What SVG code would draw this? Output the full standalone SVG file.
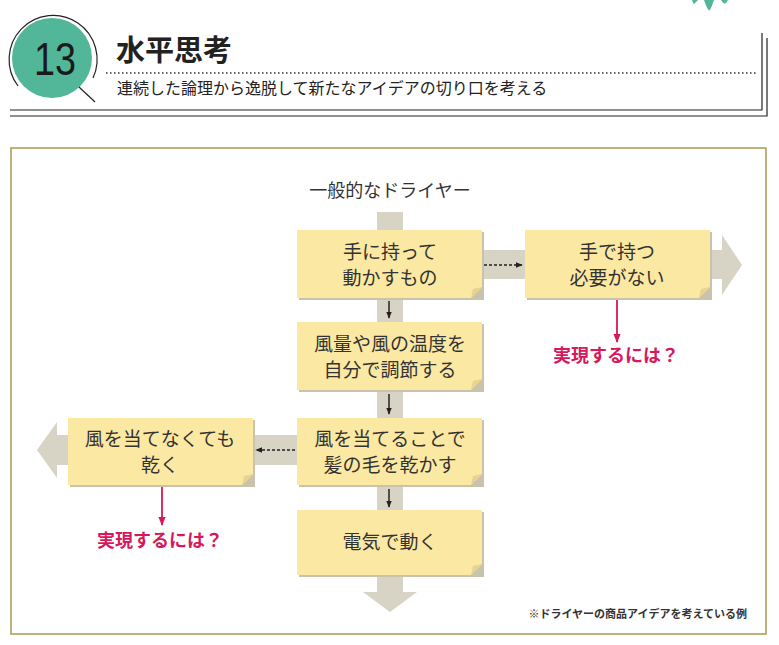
<svg xmlns="http://www.w3.org/2000/svg" width="779" height="645" viewBox="0 0 779 645">
<defs>
<style>
.jp{font-family:"Noto Sans CJK JP","Noto Sans",sans-serif;}
.note{fill:#FBE9A3;}
.shadow{fill:#C9C3AE;}
.fold{fill:#E6D38E;}
.nt{font-family:"Noto Sans CJK JP",sans-serif;font-size:19px;fill:#333;text-anchor:middle;}
.band{fill:#D7D3C5;}
.pink{font-family:"Noto Sans CJK JP",sans-serif;font-size:18px;font-weight:bold;fill:#D6185C;text-anchor:middle;}
</style>
<marker id="ah" viewBox="0 0 10 10" refX="9" refY="5" markerWidth="7" markerHeight="7" markerUnits="userSpaceOnUse" orient="auto"><path d="M0,1 L10,5 L0,9 Z" fill="#222"/></marker>
<marker id="ahp" viewBox="0 0 10 10" refX="9" refY="5" markerWidth="9" markerHeight="9" markerUnits="userSpaceOnUse" orient="auto"><path d="M0,1 L10,5 L0,9 Z" fill="#D6185C"/></marker>
</defs>
<rect width="779" height="645" fill="#fff"/>
<g id="header">
<path d="M692,0 Q694,6 695,3 L698,0 Z M704,0 Q708,12 710,10 Q712,6 714,0 Z M721,0 Q724,5 726,3 L728,0 Z" fill="#52B799"/>
<circle cx="52" cy="58" r="40" fill="#52B799"/>
<path d="M18,86 A44,44 0 1 1 93,78" fill="none" stroke="#222" stroke-width="1.2"/>
<line x1="79" y1="87" x2="95" y2="102" stroke="#222" stroke-width="1.2"/>
<text x="55" y="75" font-family="Liberation Sans,sans-serif" font-size="46" fill="#1a1a1a" text-anchor="middle" textLength="42" lengthAdjust="spacingAndGlyphs">13</text>
<text x="116" y="61" class="jp" font-size="29" font-weight="bold" fill="#222">水平思考</text>
<line x1="106" y1="73" x2="757" y2="73" stroke="#333" stroke-width="1.5" stroke-dasharray="1.5,2.5"/>
<text x="117" y="94" class="jp" font-size="16" fill="#222">連続した論理から逸脱して新たなアイデアの切り口を考える</text>
<path d="M10,110 H762 V33" fill="none" stroke="#222" stroke-width="1.2"/>
<path d="M10,116 H767 V38" fill="none" stroke="#222" stroke-width="1.2"/>
</g>
<rect x="11" y="148" width="755" height="486" fill="none" stroke="#A59B4E" stroke-width="1.5"/>
<text x="390" y="197" class="jp" font-size="18" fill="#333" text-anchor="middle">一般的なドライヤー</text>
<g id="connectors">
<path class="band" d="M377,212 H403 V592 H417 L390,612 L363,592 H377 Z"/>
<path class="band" d="M480,250 H722 V235 L742,265 L722,295 V279 H480 Z"/>
<path class="band" d="M300,435 H57 V422 L37,450 L57,478 V465 H300 Z"/>
<line x1="484" y1="265" x2="522" y2="265" stroke="#222" stroke-width="1.5" stroke-dasharray="3,2" marker-end="url(#ah)"/>
<line x1="295" y1="450" x2="256" y2="450" stroke="#222" stroke-width="1.5" stroke-dasharray="3,2" marker-end="url(#ah)"/>
<line x1="389" y1="301" x2="389" y2="318" stroke="#222" stroke-width="1.5" marker-end="url(#ah)"/>
<line x1="389" y1="394" x2="389" y2="414" stroke="#222" stroke-width="1.5" marker-end="url(#ah)"/>
<line x1="389" y1="489" x2="389" y2="507" stroke="#222" stroke-width="1.5" marker-end="url(#ah)"/>
<line x1="617" y1="299" x2="617" y2="342" stroke="#D6185C" stroke-width="1.8" marker-end="url(#ahp)"/>
<line x1="162" y1="486" x2="162" y2="525" stroke="#D6185C" stroke-width="1.8" marker-end="url(#ahp)"/>
</g>
<g id="n1">
<rect class="shadow" x="299" y="232" width="185" height="68"/>
<path class="note" d="M297,230 H482 V287 L471,298 H297 Z"/>
<path class="fold" d="M482,287 L471,298 L473,289 Z"/>
<text class="nt" x="390" y="259">手に持って</text>
<text class="nt" x="390" y="285">動かすもの</text>
</g>
<g id="n2">
<rect class="shadow" x="527" y="232" width="185" height="68"/>
<path class="note" d="M525,230 H710 V287 L699,298 H525 Z"/>
<path class="fold" d="M710,287 L699,298 L701,289 Z"/>
<text class="nt" x="617" y="259">手で持つ</text>
<text class="nt" x="617" y="285">必要がない</text>
</g>
<g id="n3">
<rect class="shadow" x="299" y="324" width="185" height="68"/>
<path class="note" d="M297,322 H482 V379 L471,390 H297 Z"/>
<path class="fold" d="M482,379 L471,390 L473,381 Z"/>
<text class="nt" x="390" y="351">風量や風の温度を</text>
<text class="nt" x="390" y="377">自分で調節する</text>
</g>
<g id="n4">
<rect class="shadow" x="299" y="420" width="185" height="67"/>
<path class="note" d="M297,418 H482 V474 L471,485 H297 Z"/>
<path class="fold" d="M482,474 L471,485 L473,476 Z"/>
<text class="nt" x="390" y="446">風を当てることで</text>
<text class="nt" x="390" y="472">髪の毛を乾かす</text>
</g>
<g id="n5">
<rect class="shadow" x="70" y="420" width="185" height="67"/>
<path class="note" d="M68,418 H253 V474 L242,485 H68 Z"/>
<path class="fold" d="M253,474 L242,485 L244,476 Z"/>
<text class="nt" x="160" y="446">風を当てなくても</text>
<text class="nt" x="160" y="472">乾く</text>
</g>
<g id="n6">
<rect class="shadow" x="299" y="512" width="185" height="65"/>
<path class="note" d="M297,510 H482 V564 L471,575 H297 Z"/>
<path class="fold" d="M482,564 L471,575 L473,566 Z"/>
<text class="nt" x="390" y="549">電気で動く</text>
</g>
<g id="labels">
<text class="pink" x="616" y="362">実現するには？</text>
<text class="pink" x="160" y="547">実現するには？</text>
<text x="747" y="618" class="jp" font-size="11" font-weight="bold" fill="#333" text-anchor="end">※ドライヤーの商品アイデアを考えている例</text>
</g>
</svg>
